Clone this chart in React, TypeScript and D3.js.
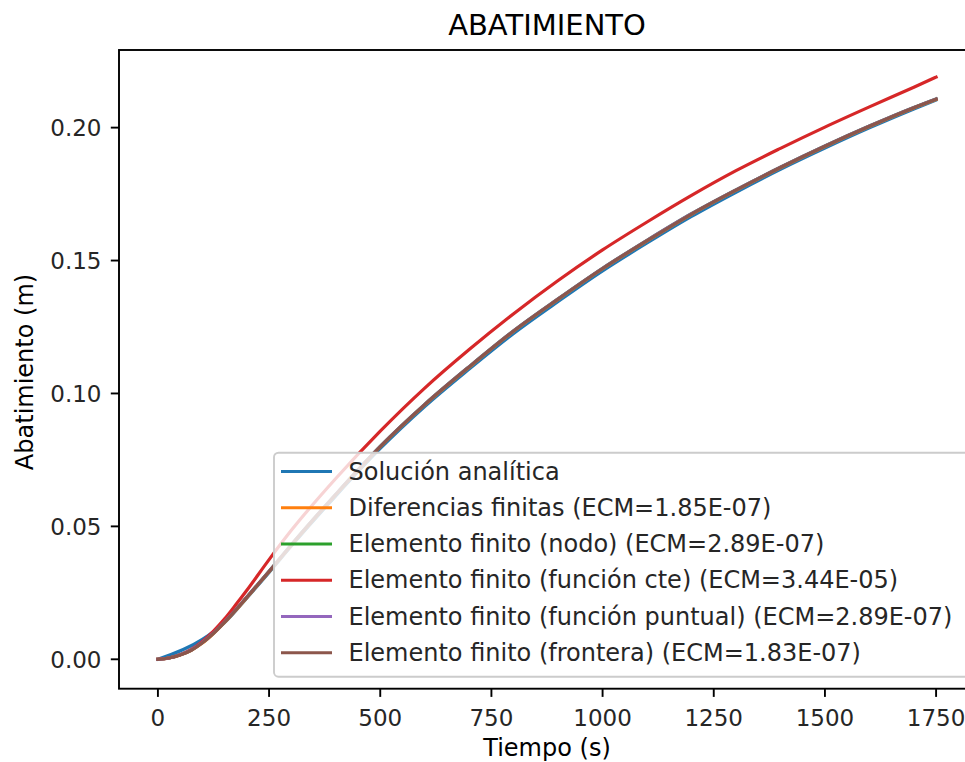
import React from "react";
import * as d3 from "d3";

const TITLE = "ABATIMIENTO";
const X_LABEL = "Tiempo (s)";
const Y_LABEL = "Abatimiento (m)";

const X_TICKS = [0, 250, 500, 750, 1000, 1250, 1500, 1750];
const Y_TICKS = [0, 0.05, 0.1, 0.15, 0.2];

const TIME_ANALYTIC = [0, 100, 150, 200, 250, 300, 400, 500, 600, 700, 800, 900, 1000, 1100, 1200, 1300, 1400, 1500, 1600, 1700, 1750];
const ANALYTIC = [0, 0.0075, 0.0138, 0.0231, 0.0327, 0.0426, 0.0615, 0.0793, 0.0951, 0.1092, 0.1226, 0.1346, 0.1461, 0.1566, 0.1666, 0.1757, 0.1843, 0.1923, 0.1999, 0.2070, 0.2104];

const TIME = [0, 25, 50, 75, 100, 125, 150, 175, 200, 250, 300, 400, 500, 600, 700, 800, 900, 1000, 1100, 1200, 1300, 1400, 1500, 1600, 1700, 1750];
const DIF_FINITAS = [0, 0.0005, 0.0016, 0.0034, 0.0061, 0.0097, 0.0139, 0.0184, 0.0232, 0.0329, 0.0429, 0.0619, 0.0799, 0.0957, 0.1099, 0.1234, 0.1354, 0.1469, 0.1574, 0.1674, 0.1764, 0.1849, 0.1929, 0.2004, 0.2074, 0.2106];
const EF_NODO = [0, 0.0005, 0.0017, 0.0035, 0.0063, 0.0099, 0.0141, 0.0186, 0.0234, 0.0331, 0.0431, 0.0621, 0.0801, 0.0959, 0.1101, 0.1236, 0.1356, 0.1471, 0.1576, 0.1676, 0.1766, 0.1851, 0.1931, 0.2006, 0.2076, 0.2108];
const EF_CTE = [0, 0.0005, 0.0017, 0.0037, 0.0067, 0.0106, 0.0152, 0.0205, 0.0260, 0.0375, 0.0485, 0.0680, 0.0858, 0.1020, 0.1165, 0.1300, 0.1425, 0.1540, 0.1645, 0.1745, 0.1838, 0.1922, 0.2002, 0.2078, 0.2152, 0.2190];
const EF_PUNTUAL = [0, 0.0005, 0.0017, 0.0035, 0.0063, 0.0099, 0.0141, 0.0186, 0.0234, 0.0331, 0.0431, 0.0621, 0.0801, 0.0959, 0.1101, 0.1236, 0.1356, 0.1471, 0.1576, 0.1676, 0.1766, 0.1851, 0.1931, 0.2006, 0.2076, 0.2108];
const EF_FRONTERA = [0, 0.0005, 0.0016, 0.0034, 0.0062, 0.0098, 0.0140, 0.0185, 0.0233, 0.0330, 0.0430, 0.0620, 0.0800, 0.0958, 0.1100, 0.1235, 0.1355, 0.1470, 0.1575, 0.1675, 0.1765, 0.1850, 0.1930, 0.2005, 0.2075, 0.2107];

const SERIES_LABELS = [
  "Solución analítica",
  "Diferencias finitas (ECM=1.85E-07)",
  "Elemento finito (nodo) (ECM=2.89E-07)",
  "Elemento finito (función cte) (ECM=3.44E-05)",
  "Elemento finito (función puntual) (ECM=2.89E-07)",
  "Elemento finito (frontera) (ECM=1.83E-07)",
];
const SERIES_COLORS = ["#1f77b4", "#ff7f0e", "#2ca02c", "#d62728", "#9467bd", "#8c564b"];

const FONT = "'DejaVu Sans', sans-serif";

export default function App() {
  const W = 965, H = 762;
  const left = 119, right = 975, top = 50, bottom = 688.7;
  const x = d3.scaleLinear().domain([-87.5, 1837.5]).range([left, right]);
  const y = d3.scaleLinear().domain([-0.01106, 0.2292]).range([bottom, top]);

  const series = [
    { t: TIME_ANALYTIC, v: ANALYTIC },
    { t: TIME, v: DIF_FINITAS },
    { t: TIME, v: EF_NODO },
    { t: TIME, v: EF_CTE },
    { t: TIME, v: EF_PUNTUAL },
    { t: TIME, v: EF_FRONTERA },
  ];

  const line = d3
    .line<[number, number]>()
    .x((d) => x(d[0]))
    .y((d) => y(d[1]))
    .curve(d3.curveMonotoneX);

  const fs = 24;
  const tickFs = 23;
  const tickLen = 8.2;
  const legX = 274, legY = 452.7, legW = 695, legH = 224;
  const row0 = 471.5, rowStep = 36.25;

  return (
    <svg
      width={W}
      height={H}
      style={{ position: "absolute", left: 0, top: 0, background: "#fff" }}
      fontFamily={FONT}
    >
      <rect x={0} y={0} width={W} height={H} fill="#fff" />
      {series.map((s, i) => (
        <path
          key={i}
          d={line(s.t.map((t, j) => [t, s.v[j]] as [number, number])) || ""}
          fill="none"
          stroke={SERIES_COLORS[i]}
          strokeWidth={3.2}
          strokeLinejoin="round"
          strokeLinecap="square"
        />
      ))}
      <rect x={left} y={top} width={right - left} height={bottom - top} fill="none" stroke="#000" strokeWidth={1.9} />
      {X_TICKS.map((t) => (
        <g key={t}>
          <line x1={x(t)} x2={x(t)} y1={bottom} y2={bottom + tickLen} stroke="#000" strokeWidth={1.9} />
          <text x={x(t)} y={725.5} textAnchor="middle" fontSize={tickFs} fill="#262626">
            {String(t)}
          </text>
        </g>
      ))}
      {Y_TICKS.map((t) => (
        <g key={t}>
          <line x1={left - tickLen} x2={left} y1={y(t)} y2={y(t)} stroke="#000" strokeWidth={1.9} />
          <text x={101.5} y={y(t) + 8.5} textAnchor="end" fontSize={tickFs} fill="#262626">
            {t.toFixed(2)}
          </text>
        </g>
      ))}
      <text x={(left + right) / 2} y={35} textAnchor="middle" fontSize={29} fill="#000">
        {TITLE}
      </text>
      <text x={(left + right) / 2} y={756} textAnchor="middle" fontSize={fs} fill="#000">
        {X_LABEL}
      </text>
      <text transform={`translate(33, 372) rotate(-90)`} textAnchor="middle" fontSize={fs} fill="#000">
        {Y_LABEL}
      </text>
      <rect x={legX} y={legY} width={legW} height={legH} rx={4.5} ry={4.5} fill="#fff" fillOpacity={0.8} stroke="#cccccc" strokeWidth={1.9} />
      {SERIES_LABELS.map((lab, i) => {
        const ry = row0 + i * rowStep;
        return (
          <g key={lab}>
            <line x1={281} x2={332} y1={ry} y2={ry} stroke={SERIES_COLORS[i]} strokeWidth={3.2} />
            <text x={348.5} y={ry + 8.1} fontSize={fs} fill="#262626">
              {lab}
            </text>
          </g>
        );
      })}
    </svg>
  );
}
